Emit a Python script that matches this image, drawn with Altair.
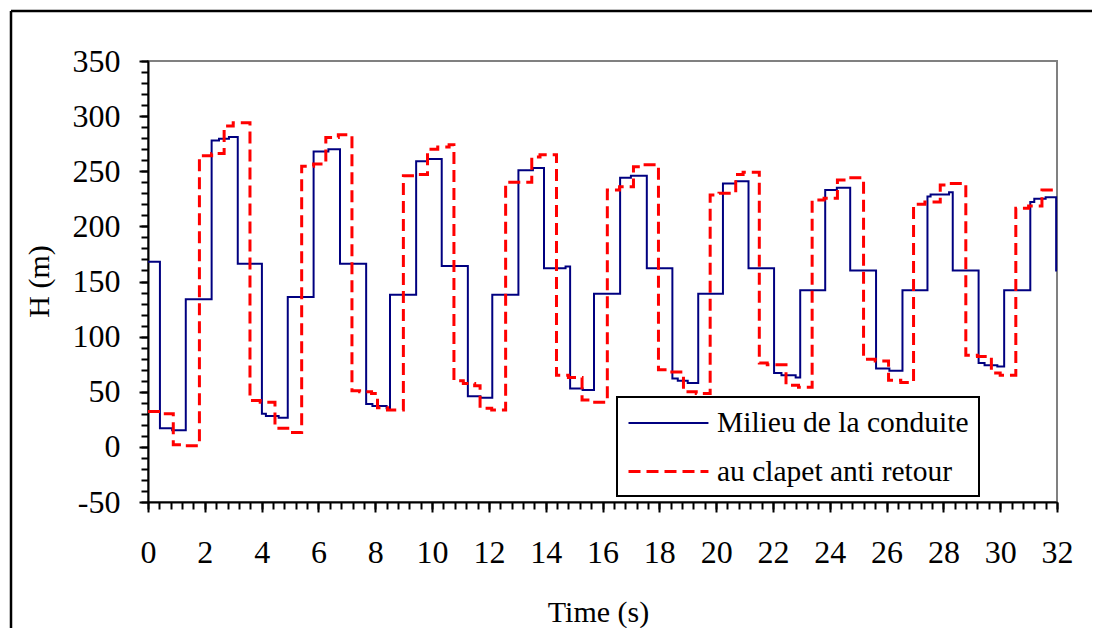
import altair as alt
import pandas as pd

# ---- data (step breakpoints: value holds from t onward) ----
t_milieu = [0, 0.42, 0.85, 1.33, 2.24, 2.5, 2.85, 3.16, 4.01, 4.15, 4.6, 4.92, 5.83, 6.35,
            6.76, 7.68, 7.9, 8.4, 8.52, 9.44, 9.85, 10.34, 11.26, 11.7, 12.12, 13.04, 13.55,
            13.94, 14.7, 14.86, 15.3, 15.70, 16.62, 17.0, 17.56, 18.46, 18.65, 19.0, 19.37,
            20.24, 20.7, 21.14, 22.04, 22.3, 22.8, 22.96, 23.84, 24.25, 24.72, 25.63, 26.1,
            26.56, 27.44, 27.55, 28.2, 28.33, 29.24, 29.45, 29.9, 30.14, 31.06, 31.2, 31.6,
            31.97, 32]
h_milieu = [168, 17, 15, 134, 278, 279.5, 281, 166, 30, 28, 26.5, 136, 268, 270, 166, 39,
            37, 35, 138, 259, 261, 164, 46, 44.5, 138, 251, 253, 162, 163.5, 53, 51.5, 139,
            244, 246, 162, 62, 60, 58, 139, 239, 241, 162, 67, 65, 63, 142, 233, 235, 160,
            71, 69, 142, 227, 229, 231, 160, 76, 74, 73, 142, 222, 225, 226.5, 160, 160]

t_clapet = [0, 0.45, 0.89, 1.33, 1.81, 2.24, 2.68, 3.0, 3.59, 3.95, 4.47, 4.92, 5.41, 5.83,
            6.26, 6.7, 7.18, 7.45, 7.87, 8.08, 8.43, 8.99, 9.4, 9.84, 10.2, 10.6, 10.77,
            11.1, 11.5, 11.69, 12.1, 12.59, 13.51, 13.8, 14.38, 14.8, 15.28, 15.6, 16.17,
            16.6, 17.09, 17.4, 17.97, 18.3, 18.85, 19.3, 19.79, 20.1, 20.69, 20.95, 21.52,
            21.8, 22.46, 22.9, 23.38, 23.8, 24.27, 24.6, 25.19, 25.6, 26.07, 26.5, 26.95,
            27.35, 27.89, 28.1, 28.79, 29.2, 29.69, 30.0, 30.55, 31.0, 31.47, 31.8, 32]
h_clapet = [32, 30, 2, 1, 264, 266, 291, 294, 42, 40.5, 17, 13, 254.5, 256.5, 280.5, 283,
            51, 50, 48.5, 35.5, 33.5, 246, 247, 270, 272, 274, 60, 57.5, 55.5, 35, 33.5,
            240, 263, 265, 65, 63, 42.5, 40.5, 233, 236, 254, 256, 70, 68, 50, 48.5, 228.5,
            230, 247, 249, 76, 74.5, 56, 54, 224, 225.5, 242, 244, 79.5, 78, 60.5, 58.5,
            220, 222, 237.5, 239, 83, 82, 67, 65, 216.5, 218.5, 233, 234.5, 234.5]

series_names = ["Milieu de la conduite", "au clapet anti retour"]
series_colors = ["#000080", "#FF0000"]
series_dashes = [[1, 0], [12, 6]]
series_widths = [2, 3]

x_major = list(range(0, 33, 2))
x_minor = [round(i * 0.4, 1) for i in range(0, 81)]
y_major = list(range(-50, 351, 50))
y_minor = list(range(-50, 351, 10))

df = pd.concat([
    pd.DataFrame({"t": t_milieu, "H": h_milieu, "serie": series_names[0], "k": 0}),
    pd.DataFrame({"t": t_clapet, "H": h_clapet, "serie": series_names[1], "k": 1}),
], ignore_index=True)

FONT = "Liberation Serif"

xscale = alt.Scale(domain=[0, 32], nice=False, zero=False)
yscale = alt.Scale(domain=[-50, 350], nice=False, zero=False)

legend_common = dict(title=None, orient="none", legendX=469, legendY=336,
                     direction="vertical", symbolType="M-1,0H4.33",
                     symbolSize=900, symbolStrokeWidth=2.5,
                     labelFont=FONT, labelFontSize=29.5, labelColor="black",
                     labelLimit=500, labelOffset=57, rowPadding=17,
                     padding=10, strokeColor="black", fillColor="white",
                     cornerRadius=0)

lines = alt.Chart(df).mark_line(interpolate="step-after").encode(
    x=alt.X("t:Q", scale=xscale,
            axis=alt.Axis(orient="bottom", values=x_major, tickSize=10, tickWidth=2,
                          tickColor="black", domainColor="black", domainWidth=2,
                          labelFont=FONT, labelFontSize=32, labelColor="black",
                          labelBaseline="alphabetic", labelPadding=50, labelFlush=False,
                          grid=False, title="Time (s)", titleFont=FONT, titleFontSize=30,
                          titleColor="black", titleFontWeight="normal",
                          titleBaseline="alphabetic", titleX=450, titleY=119)),
    y=alt.Y("H:Q", scale=yscale,
            axis=alt.Axis(orient="left", values=y_major, tickSize=9, tickWidth=2,
                          tickColor="black", domainColor="black", domainWidth=2,
                          labelFont=FONT, labelFontSize=32, labelColor="black",
                          labelExpr="'' + datum.value",
                          labelPadding=19, labelFlush=False, grid=False,
                          title="H (m)", titleFont=FONT, titleFontSize=30,
                          titleColor="black", titleFontWeight="normal", titleAngle=270,
                          titleAlign="center", titleBaseline="alphabetic",
                          titleX=-100, titleY=220)),
    color=alt.Color("serie:N", scale=alt.Scale(domain=series_names, range=series_colors),
                    legend=alt.Legend(**legend_common)),
    strokeDash=alt.StrokeDash("serie:N",
                              scale=alt.Scale(domain=series_names, range=series_dashes),
                              legend=alt.Legend(**legend_common)),
    strokeWidth=alt.StrokeWidth("serie:N",
                                scale=alt.Scale(domain=series_names, range=series_widths),
                                legend=None),
    detail="k:N",
    order="t:Q",
)

minor = alt.Chart(df).mark_line(strokeOpacity=0).encode(
    x=alt.X("t:Q", scale=xscale,
            axis=alt.Axis(orient="bottom", values=x_minor, tickSize=7, tickWidth=2,
                          tickColor="black", domain=False, labels=False, grid=False,
                          title=None)),
    y=alt.Y("H:Q", scale=yscale,
            axis=alt.Axis(orient="left", values=y_minor, tickSize=7, tickWidth=2,
                          tickColor="black", domain=False, labels=False, grid=False,
                          title=None)),
)

# outer chart frame (top and left edges, as in the reference)
frame_data = alt.Data(values=[{"f": 1}])
frame_top = alt.Chart(frame_data).mark_rule(stroke="black", strokeWidth=2.5).encode(
    x=alt.value(-137), x2=alt.value(1300), y=alt.value(-50)
)
frame_left = alt.Chart(frame_data).mark_rule(stroke="black", strokeWidth=2.5).encode(
    x=alt.value(-137), y=alt.value(-50), y2=alt.value(900)
)

chart = alt.layer(frame_top, frame_left, minor, lines).resolve_axis(
    x="independent", y="independent"
).properties(
    width=909, height=441,
    padding={"left": 140, "top": 53, "right": 35, "bottom": 126},
    autosize=alt.AutoSizeParams(type="none"),
    background="white",
).configure_view(
    stroke="#808080", strokeWidth=2
).configure_legend(
    strokeWidth=2
)

chart.save("out.html", embed_options={"renderer": "svg", "actions": False})
